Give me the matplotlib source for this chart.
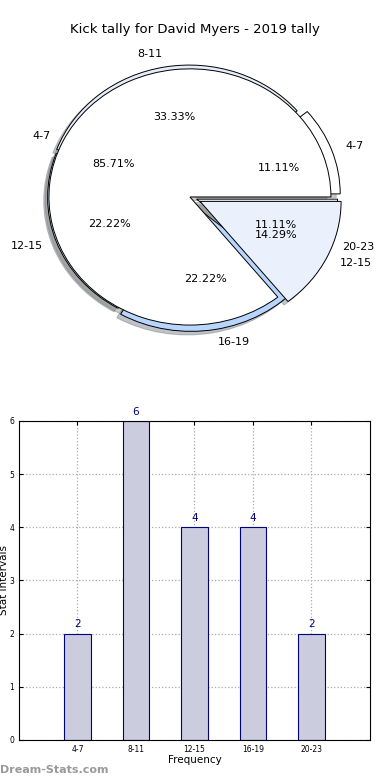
import matplotlib

matplotlib.use("Agg")
import matplotlib.pyplot as plt

TITLE = "Kick tally for David Myers - 2019 tally"
BINS = ["4-7", "8-11", "12-15", "16-19", "20-23"]
COUNTS = [2, 6, 4, 4, 2]
# second (overlaid) pie
PIE2_LABELS = ["4-7", "12-15"]
PIE2_VALUES = [6, 1]

PIE1_COLORS = ["white", "#e6edfa", "#cfe0fb", "#b8d5fd", "#eaf0fc"]
PIE2_COLORS = ["white", "#eaf0fc"]

fig = plt.figure(figsize=(3.9, 7.8), dpi=100)
fig.text(0.5, 1 - 30 / 780, TITLE, ha="center", va="center", fontsize=9.5)

# ---- pie panel
ax = fig.add_axes([0.017, 0.534, 0.94, 0.427])
wedge_kw = dict(edgecolor="black", linewidth=0.7)
ax.pie(COUNTS, labels=BINS, explode=[0.07, 0.03, 0.01, 0.05, 0.05],
       colors=PIE1_COLORS, autopct="%.2f%%", pctdistance=0.6, labeldistance=1.1,
       shadow=dict(shade=0.6, alpha=0.35), startangle=0, wedgeprops=wedge_kw,
       textprops=dict(fontsize=8))
ax.pie(PIE2_VALUES, labels=PIE2_LABELS, explode=[0, 0.08],
       colors=PIE2_COLORS, autopct="%.2f%%", pctdistance=0.6, labeldistance=1.1,
       shadow=dict(shade=0.6, alpha=0.35), startangle=0, wedgeprops=wedge_kw,
       textprops=dict(fontsize=8))
ax.set_aspect("auto")
ax.set_xlim(-1.3, 1.3)
ax.set_ylim(-1.3, 1.3)
ax.axis("off")

# ---- bar panel
bx = fig.add_axes([0.0487, 0.0513, 0.9, 0.409])
xs = list(range(len(BINS)))
bx.bar(xs, COUNTS, width=0.45, color="#ccccdf", edgecolor="#000080", linewidth=0.8, zorder=2)
for x, c in zip(xs, COUNTS):
    bx.text(x, c + 0.08, str(c), ha="center", va="bottom", color="#000080", fontsize=7.5)
bx.set_xlim(-1, 5)
bx.set_ylim(0, 6)
bx.set_xticks(xs)
bx.set_xticklabels(BINS)
bx.set_yticks(range(7))
bx.tick_params(direction="in", labelsize=5.5, top=True, right=True, length=3)
bx.grid(True, linestyle=":", color="#aaaaaa", linewidth=0.9, zorder=0)
bx.set_axisbelow(True)
bx.set_xlabel("Frequency", fontsize=7.5, labelpad=1)
bx.set_ylabel("Stat Intervals", fontsize=7.5)
bx.yaxis.set_label_coords(-0.028, 0.5)

fig.text(0.0, 1 - 770 / 780, "Dream-Stats.com", ha="left", va="center",
         fontsize=8, color="#999999", fontweight="bold")

fig.savefig("out.png", dpi=100)
